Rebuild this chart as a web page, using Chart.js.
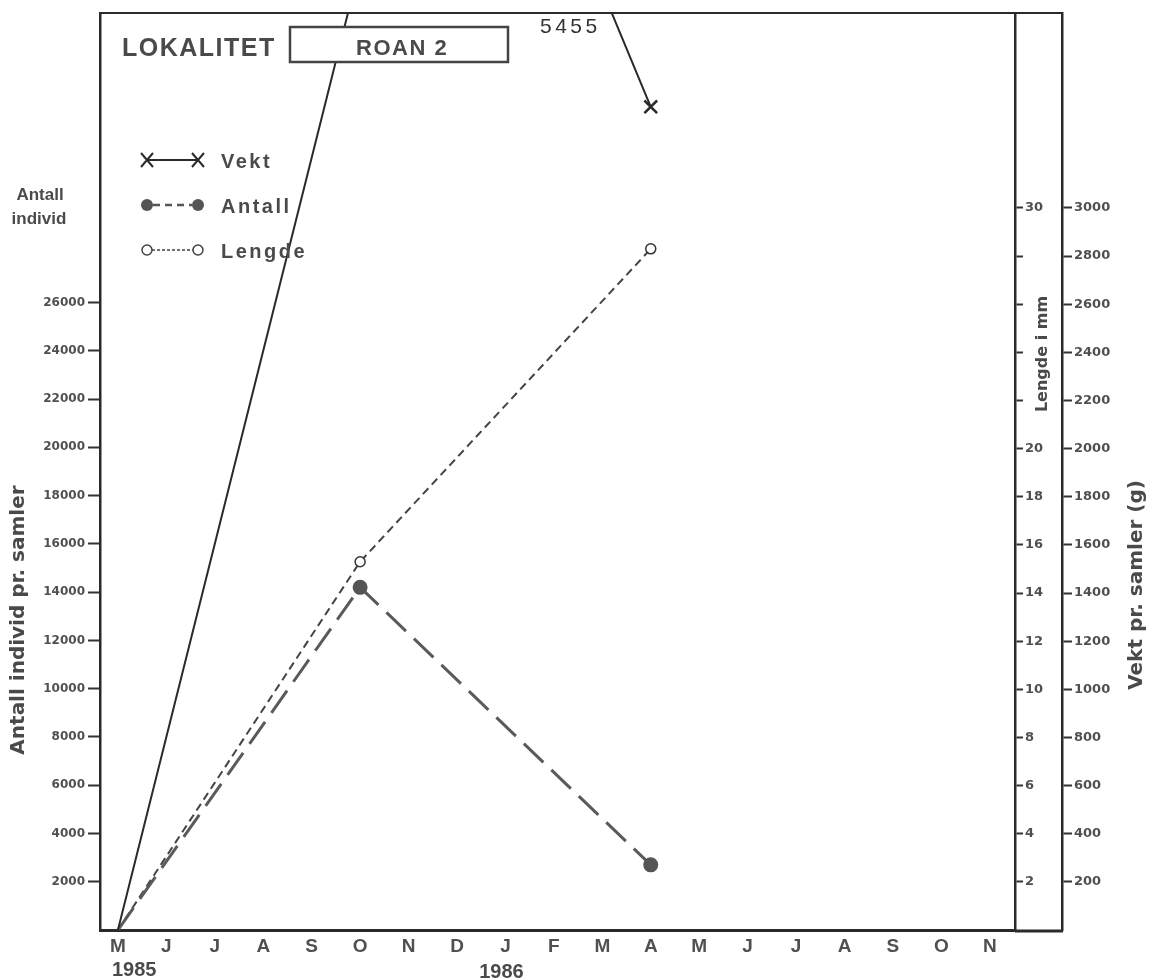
<!DOCTYPE html>
<html>
<head>
<meta charset="utf-8">
<title>Lokalitet Roan 2</title>
<script src="https://cdn.jsdelivr.net/npm/chart.js@4.4.0/dist/chart.umd.min.js"></script>
<style>
    html, body { margin: 0; padding: 0; background: #ffffff; }
    #wrap { width: 1155px; height: 980px; }
</style>
</head>
<body>
<div id="wrap">
    <canvas id="roanChart" width="1155" height="980"></canvas>
</div>
<script>

/* =========================
   DATA
========================= */

// months from May 1985 to November 1986 (index 0 = M 1985)
const monthLabels = ["M", "J", "J", "A", "S", "O", "N", "D", "J", "F", "M", "A", "M", "J", "J", "A", "S", "O", "N"];

// sampling dates: May 1985, Oct 1985, Apr 1986
const sampleMonths = [0, 5, 11];

const antallValues = [0, 14200, 2700];

const lengdeValues = [0, 15.3, 28.3];

// the weight line peaks off the chart (5455 g) between the samples as drawn
const vektMonths = [0, 6.8, 11];

const vektValues = [0, 5455, 3420];

const antallTicks = [2000, 4000, 6000, 8000, 10000, 12000, 14000, 16000, 18000, 20000, 22000, 24000, 26000];

const lengdeTicks = [2, 4, 6, 8, 10, 12, 14, 16, 18, 20, 22, 24, 26, 28, 30];

const lengdeLabelled = [2, 4, 6, 8, 10, 12, 14, 16, 18, 20, 30];

const vektTicks = [200, 400, 600, 800, 1000, 1200, 1400, 1600, 1800, 2000, 2200, 2400, 2600, 2800, 3000];

/* =========================
   STYLE HELPERS
========================= */

const INK = "#2a2a2a";
const GREY = "#4a4a4a";
const TICK_GREY = "#505050";

function toPoints(xs, ys) {

    return xs.map((x, i) => ({ x: x, y: ys[i] }));

}

function fixedTicks(list) {

    return scale => {

        scale.ticks = list.map(v => ({ value: v }));

    };

}

function spacedText(ctx, text, x, y, spacing) {

    ctx.letterSpacing = spacing + "px";
    ctx.fillText(text, x, y);
    ctx.letterSpacing = "0px";

}

/* =========================
   EXTRA DRAWING (frame, box, legend, titles)
========================= */

const roanDecor = {

    id: "roanDecor",

    afterDraw(chart) {

        const ctx = chart.ctx;
        const area = chart.chartArea;
        const xs = chart.scales.x;
        const vekt = chart.scales.yVekt;
        const lengde = chart.scales.yLengde;

        ctx.save();

        // top frame and bottom line under the two right axes
        ctx.strokeStyle = INK;
        ctx.lineWidth = 2;
        ctx.beginPath();
        ctx.moveTo(area.left - 1, area.top);
        ctx.lineTo(vekt.left + 1, area.top);
        ctx.stroke();

        ctx.lineWidth = 3;
        ctx.beginPath();
        ctx.moveTo(area.right, area.bottom + 1);
        ctx.lineTo(vekt.left + 1, area.bottom + 1);
        ctx.stroke();

        // LOKALITET box
        ctx.fillStyle = "#ffffff";
        ctx.fillRect(290, 27, 218, 35);
        ctx.strokeStyle = "#444444";
        ctx.lineWidth = 2.5;
        ctx.strokeRect(290, 27, 218, 35);

        ctx.fillStyle = GREY;
        ctx.textBaseline = "alphabetic";
        ctx.font = "bold 25px 'Liberation Sans'";
        ctx.textAlign = "left";
        spacedText(ctx, "LOKALITET", 122, 56, 1.5);

        ctx.font = "bold 22px 'Liberation Sans'";
        spacedText(ctx, "ROAN 2", 356, 55, 1.5);

        // off-scale weight value
        ctx.fillStyle = "#333333";
        ctx.font = "21px 'Liberation Sans'";
        spacedText(ctx, "5455", 540, 33, 3.5);

        // legend
        drawLegend(ctx);

        // small label above the left axis
        ctx.fillStyle = GREY;
        ctx.font = "bold 17px 'Liberation Sans'";
        ctx.textAlign = "center";
        ctx.fillText("Antall", 40, 200);
        ctx.fillText("individ", 39, 224);

        // years under the month letters
        ctx.font = "bold 20px 'Liberation Sans'";
        ctx.textAlign = "left";
        ctx.fillText("1985", xs.getPixelForValue(0) - 6, 976);
        ctx.textAlign = "center";
        ctx.fillText("1986", xs.getPixelForValue(8) - 4, 978);

        // rotated axis titles
        drawVertical(ctx, "Antall individ pr. samler", 19, 620, "bold 20px 'DejaVu Sans'");
        drawVertical(ctx, "Lengde i mm", (lengde.left + vekt.left) / 2 + 4, 354, "bold 16px 'DejaVu Sans'");
        drawVertical(ctx, "Vekt pr. samler (g)", 1137, 585, "bold 20px 'DejaVu Sans'");

        ctx.restore();

    }

};

function drawVertical(ctx, text, x, y, font) {

    ctx.save();
    ctx.translate(x, y);
    ctx.rotate(-Math.PI / 2);
    ctx.font = font;
    ctx.fillStyle = GREY;
    ctx.textAlign = "center";
    ctx.textBaseline = "middle";
    ctx.fillText(text, 0, 0);
    ctx.restore();

}

function drawLegend(ctx) {

    const x1 = 147;
    const x2 = 198;

    // Vekt
    ctx.strokeStyle = INK;
    ctx.lineWidth = 2;
    ctx.setLineDash([]);
    ctx.beginPath();
    ctx.moveTo(x1, 160);
    ctx.lineTo(x2, 160);
    ctx.stroke();
    [x1, x2].forEach(x => {
        ctx.beginPath();
        ctx.moveTo(x - 6, 153);
        ctx.lineTo(x + 6, 167);
        ctx.moveTo(x + 6, 153);
        ctx.lineTo(x - 6, 167);
        ctx.stroke();
    });

    // Antall
    ctx.strokeStyle = "#555555";
    ctx.lineWidth = 2.5;
    ctx.setLineDash([7, 5]);
    ctx.beginPath();
    ctx.moveTo(x1 + 6, 205);
    ctx.lineTo(x2 - 6, 205);
    ctx.stroke();
    ctx.setLineDash([]);
    ctx.fillStyle = "#555555";
    [x1, x2].forEach(x => {
        ctx.beginPath();
        ctx.arc(x, 205, 6, 0, Math.PI * 2);
        ctx.fill();
    });

    // Lengde
    ctx.strokeStyle = "#444444";
    ctx.lineWidth = 1.5;
    ctx.setLineDash([3, 2]);
    ctx.beginPath();
    ctx.moveTo(x1 + 5, 250);
    ctx.lineTo(x2 - 5, 250);
    ctx.stroke();
    ctx.setLineDash([]);
    ctx.fillStyle = "#ffffff";
    [x1, x2].forEach(x => {
        ctx.beginPath();
        ctx.arc(x, 250, 5, 0, Math.PI * 2);
        ctx.fill();
        ctx.stroke();
    });

    ctx.fillStyle = GREY;
    ctx.font = "bold 20px 'Liberation Sans'";
    ctx.textAlign = "left";
    ctx.textBaseline = "alphabetic";
    spacedText(ctx, "Vekt", 221, 168, 2.5);
    spacedText(ctx, "Antall", 221, 213, 2.5);
    spacedText(ctx, "Lengde", 221, 258, 2.5);

}

/* =========================
   CHART
========================= */

const tickFontLeft = { family: "DejaVu Sans", weight: "bold", size: 12 };

const tickFontRight = { family: "DejaVu Sans", weight: "bold", size: 13 };

const roanChart = new Chart(document.getElementById("roanChart"), {

    type: "line",

    data: {

        datasets: [

            {
                label: "Vekt",
                data: toPoints(vektMonths, vektValues),
                yAxisID: "yVekt",
                borderColor: INK,
                borderWidth: 2,
                pointStyle: "crossRot",
                pointRadius: [0, 0, 9],
                pointBorderWidth: 2.5,
                pointBorderColor: INK,
                tension: 0
            },

            {
                label: "Antall",
                data: toPoints(sampleMonths, antallValues),
                yAxisID: "y",
                borderColor: "#5a5a5a",
                borderWidth: 3,
                borderDash: [27, 11],
                pointStyle: "circle",
                pointRadius: [0, 6, 6],
                pointBackgroundColor: "#555555",
                pointBorderColor: "#555555",
                tension: 0
            },

            {
                label: "Lengde",
                data: toPoints(sampleMonths, lengdeValues),
                yAxisID: "yLengde",
                borderColor: "#444444",
                borderWidth: 2,
                borderDash: [8, 5],
                pointStyle: "circle",
                pointRadius: [0, 5, 5],
                pointBackgroundColor: "#ffffff",
                pointBorderColor: "#333333",
                pointBorderWidth: 1.5,
                tension: 0
            }

        ]

    },

    options: {

        responsive: false,

        animation: false,

        devicePixelRatio: 1,

        layout: {
            padding: { top: 13, left: 0, right: 0, bottom: 0 }
        },

        plugins: {
            legend: { display: false },
            tooltip: { enabled: false }
        },

        scales: {

            x: {
                type: "linear",
                min: -0.37,
                max: 18.52,
                afterBuildTicks: fixedTicks(monthLabels.map((m, i) => i)),
                afterFit: scale => { scale.height = 50; },
                ticks: {
                    autoSkip: false,
                    maxRotation: 0,
                    padding: 5,
                    color: TICK_GREY,
                    font: { family: "Liberation Sans", weight: "bold", size: 19 },
                    callback: value => monthLabels[value] ?? ""
                },
                grid: { display: false, drawTicks: false },
                border: { color: INK, width: 3 }
            },

            y: {
                position: "left",
                min: 0,
                max: 38000,
                afterBuildTicks: fixedTicks(antallTicks),
                afterFit: scale => { scale.width = 100; },
                ticks: {
                    padding: 3,
                    color: TICK_GREY,
                    font: tickFontLeft,
                    callback: value => String(value)
                },
                grid: {
                    drawOnChartArea: false,
                    tickLength: 12,
                    tickWidth: 2,
                    tickColor: "#333333"
                },
                border: { color: INK, width: 2.5 }
            },

            yLengde: {
                position: "right",
                weight: 0,
                min: 0,
                max: 38.1,
                afterBuildTicks: fixedTicks(lengdeTicks),
                afterFit: scale => { scale.width = 47; },
                ticks: {
                    padding: 2,
                    color: TICK_GREY,
                    font: tickFontRight,
                    callback: value => lengdeLabelled.includes(value) ? String(value) : ""
                },
                grid: {
                    drawOnChartArea: false,
                    tickLength: 8,
                    tickWidth: 2,
                    tickColor: "#333333"
                },
                border: { color: INK, width: 2.5 }
            },

            yVekt: {
                position: "right",
                weight: 1,
                min: 0,
                max: 3810,
                afterBuildTicks: fixedTicks(vektTicks),
                afterFit: scale => { scale.width = 93; },
                ticks: {
                    padding: 2,
                    color: TICK_GREY,
                    font: tickFontRight,
                    callback: value => String(value)
                },
                grid: {
                    drawOnChartArea: false,
                    tickLength: 10,
                    tickWidth: 2,
                    tickColor: "#333333"
                },
                border: { color: INK, width: 2.5 }
            }

        }

    },

    plugins: [roanDecor]

});

</script>
</body>
</html>
